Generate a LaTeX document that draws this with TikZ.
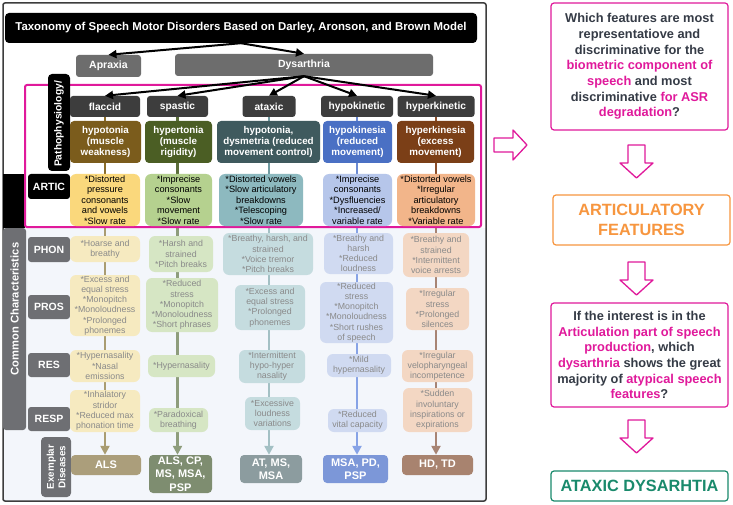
\documentclass[tikz,border=0pt]{standalone}
\usepackage{fontspec}
\setmainfont{Liberation Sans}
\usetikzlibrary{arrows.meta}
\definecolor{pinkc}{HTML}{E0199B}
\definecolor{darktxt}{HTML}{353B46}
\definecolor{orangec}{HTML}{F7963F}
\definecolor{greenc}{HTML}{1A8A6C}
\definecolor{hdrgray}{HTML}{3D3D3D}
\definecolor{rowgray}{HTML}{6E6F73}
\definecolor{toplab}{HTML}{6D6D6D}
\definecolor{faint}{HTML}{8A8A8A}
\definecolor{lowbg}{HTML}{F3F6FB}
% pathophysiology fills
\definecolor{pF}{HTML}{7B5C1C}
\definecolor{pS}{HTML}{4B5E24}
\definecolor{pA}{HTML}{3F5A5E}
\definecolor{pK}{HTML}{4A70C4}
\definecolor{pH}{HTML}{7B3F17}
% artic fills
\definecolor{aF}{HTML}{FAD87C}
\definecolor{aS}{HTML}{B5D18F}
\definecolor{aA}{HTML}{8DB9BF}
\definecolor{aK}{HTML}{B6C6EA}
\definecolor{aH}{HTML}{F2B58A}
% lower fills
\definecolor{lF}{HTML}{F6EAC0}
\definecolor{lS}{HTML}{D6E6C4}
\definecolor{lA}{HTML}{C5DCDF}
\definecolor{lK}{HTML}{D0DAF1}
\definecolor{lH}{HTML}{F3D7C3}
% exemplar fills
\definecolor{eF}{HTML}{AB9E7B}
\definecolor{eS}{HTML}{7E8D70}
\definecolor{eA}{HTML}{8C9C9F}
\definecolor{eK}{HTML}{7C97D8}
\definecolor{eH}{HTML}{A8836F}
% line colours
\definecolor{uF}{HTML}{8B6D2B}
\definecolor{uS}{HTML}{5B6E3A}
\definecolor{uA}{HTML}{6F9AA0}
\definecolor{uK}{HTML}{6B8AD3}
\definecolor{uH}{HTML}{8B4D2A}
\definecolor{dF}{HTML}{A99C72}
\definecolor{dS}{HTML}{8E9D7C}
\definecolor{dA}{HTML}{A3C0C4}
\definecolor{dK}{HTML}{87A3E6}
\definecolor{dH}{HTML}{A78474}
\newcommand\mg[1]{\textcolor{pinkc}{#1}}
\pgfdeclarelayer{bgl}
\pgfdeclarelayer{linel}
\pgfsetlayers{bgl,linel,main}
\tikzset{
  hdr/.style={fill=hdrgray, rounded corners=3pt, text=white, font=\bfseries\fontsize{10.2}{11}\selectfont, inner sep=0pt, align=center},
  toplabel/.style={fill=toplab, rounded corners=3pt, text=white, font=\bfseries\fontsize{10.5}{12}\selectfont, inner sep=0pt},
  pbox/.style={rounded corners=4pt, text=white, font=\bfseries\fontsize{9.8}{11.2}\selectfont, align=center, inner sep=0pt},
  abox/.style={rounded corners=6pt, text=black, font=\fontsize{9.2}{10.4}\selectfont, align=center, inner sep=0pt},
  lbox/.style={rounded corners=6pt, text=faint, font=\fontsize{8.8}{10.2}\selectfont, align=center, inner sep=0pt},
  rowlab/.style={fill=rowgray, rounded corners=3pt, text=white, font=\bfseries\fontsize{10.5}{12}\selectfont, inner sep=0pt},
  exbox/.style={rounded corners=4pt, text=white, font=\bfseries\fontsize{11}{13.5}\selectfont, align=center, inner sep=0pt},
  blackarr/.style={line width=2pt, -{Triangle[length=8pt,width=8pt]}},
  upline/.style={line width=2.5pt},
  downline/.style={line width=2.5pt, -{Triangle[length=9pt,width=9pt]}},
  qbox/.style={draw=pinkc, line width=1.2pt, rounded corners=3pt, text=darktxt, font=\bfseries\fontsize{12.8}{15.7}\selectfont, align=center, inner sep=0pt},
  bigbox/.style={line width=1.2pt, rounded corners=3pt, font=\bfseries\fontsize{16.3}{20}\selectfont, align=center, inner sep=0pt},
  hollow/.style={draw=pinkc, line width=1.3pt, line join=round}
}
\begin{document}
\begin{tikzpicture}[x=1pt,y=-1pt]
\useasboundingbox (0,0) rectangle (733,505);
\begin{pgfonlayer}{bgl}
  \fill[white] (0,0) rectangle (733,505);
  \fill[lowbg] (3,228) rectangle (486,501);
\end{pgfonlayer}
% frame
\draw[hdrgray, line width=1.5pt, rounded corners=2pt] (3,3) rectangle (486,501);

% top
\node[fill=black, rounded corners=4pt, text=white, font=\bfseries\fontsize{11.4}{13}\selectfont, minimum width=472, minimum height=30, inner sep=0pt] (title) at (241,28) {Taxonomy of Speech Motor Disorders Based on Darley, Aronson, and Brown Model};
\node[toplabel, minimum width=65, minimum height=22] (apr) at (108.5,66) {Apraxia};
\node[toplabel, minimum width=258, minimum height=22] (dys) at (304,65) {Dysarthria};

% left bands
\fill[black] (3,174) rectangle (25,228);
\node[fill=rowgray, rounded corners=3pt, minimum width=23, minimum height=202, inner sep=0pt] (cc) at (14.5,329) {};
\node[rotate=90, text=white, font=\bfseries\fontsize{11.2}{12}\selectfont, inner sep=0pt] (cctext) at (14.5,309) {Common Characteristics};

% pink box
\draw[pinkc, line width=2pt, rounded corners=2pt] (25,85) rectangle (481,227);

\node[fill=black, rounded corners=4pt, minimum width=22, minimum height=97, inner sep=0pt] (pp) at (59,122.5) {};
\node[rotate=90, text=white, font=\bfseries\fontsize{10.3}{12}\selectfont, inner sep=0pt] (pptext) at (59,124) {Pathophysiology/};

\node[fill=black, rounded corners=3pt, text=white, font=\bfseries\fontsize{10.5}{12}\selectfont, minimum width=42, minimum height=25, inner sep=0pt] (artic) at (49,186.5) {ARTIC};
\node[rowlab, minimum width=42, minimum height=25] (phon) at (49,249.5) {PHON};
\node[rowlab, minimum width=42, minimum height=24] (pros) at (49,307) {PROS};
\node[rowlab, minimum width=42, minimum height=24] (res) at (49,365) {RES};
\node[rowlab, minimum width=42, minimum height=24] (resp) at (49,419) {RESP};
\node[fill=rowgray, rounded corners=4pt, minimum width=30, minimum height=60, inner sep=0pt] (exl) at (56,467) {};
\node[rotate=90, text=white, font=\bfseries\fontsize{9.8}{11.5}\selectfont, align=center, inner sep=0pt] (extext) at (56,467) {Exemplar\\Diseases};

% headers
\node[hdr, minimum width=70, minimum height=21] (fh) at (105,106.5) {flaccid};
\node[hdr, minimum width=61, minimum height=21] (sh) at (177.5,106.5) {spastic};
\node[hdr, minimum width=53, minimum height=21] (xh) at (269,106.5) {ataxic};
\node[hdr, minimum width=72, minimum height=21] (kh) at (357,106.5) {hypokinetic};
\node[hdr, minimum width=77, minimum height=21] (hh) at (436,106.5) {hyperkinetic};

% pathophysiology
\node[pbox, fill=pF, minimum width=71, minimum height=42] (fp) at (105.5,142) {hypotonia\\(muscle\\weakness)};
\node[pbox, fill=pS, minimum width=67, minimum height=42] (sp) at (178.5,142) {hypertonia\\(muscle\\rigidity)};
\node[pbox, fill=pA, minimum width=103, minimum height=42] (xp) at (268.5,142) {hypotonia,\\dysmetria (reduced\\movement control)};
\node[pbox, fill=pK, minimum width=69, minimum height=42] (kp) at (357.5,142) {hypokinesia\\(reduced\\movement)};
\node[pbox, fill=pH, minimum width=77, minimum height=42] (hp) at (435.5,142) {hyperkinesia\\(excess\\movement)};

% artic
\node[abox, fill=aF, minimum width=70, minimum height=52] (fa) at (105,200) {*Distorted\\pressure\\consonants\\and vowels\\*Slow rate};
\node[abox, fill=aS, minimum width=67, minimum height=52] (sa) at (178.5,200) {*Imprecise\\consonants\\*Slow\\movement\\*Slow rate};
\node[abox, fill=aA, minimum width=84, minimum height=52] (xa) at (261,200) {*Distorted vowels\\*Slow articulatory\\breakdowns\\*Telescoping\\*Slow rate};
\node[abox, fill=aK, minimum width=69, minimum height=52] (ka) at (357.5,200) {*Imprecise\\consonants\\*Dysfluencies\\*Increased/\\variable rate};
\node[abox, fill=aH, minimum width=78, minimum height=52] (ha) at (436,200) {*Distorted vowels\\*Irregular\\articulatory\\breakdowns\\*Variable rate};

% flaccid lower
\node[lbox, fill=lF, minimum width=70, minimum height=26] (f1) at (105,249) {*Hoarse and\\breathy};
\node[lbox, fill=lF, minimum width=70, minimum height=61] (f2) at (105,305.5) {*Excess and\\equal stress\\*Monopitch\\*Monoloudness\\*Prolonged\\phonemes};
\node[lbox, fill=lF, minimum width=70, minimum height=32] (f3) at (105,366) {*Hypernasality\\*Nasal\\emissions};
\node[lbox, fill=lF, minimum width=70, minimum height=42] (f4) at (105,411) {*Inhalatory\\stridor\\*Reduced max\\phonation time};
\node[exbox, fill=eF, minimum width=70, minimum height=20] (fx) at (106,465) {ALS};

% spastic lower
\node[lbox, fill=lS, minimum width=64, minimum height=36] (s1) at (181,254) {*Harsh and\\strained\\*Pitch breaks};
\node[lbox, fill=lS, minimum width=72, minimum height=54] (s2) at (182,305) {*Reduced\\stress\\*Monopitch\\*Monoloudness\\*Short phrases};
\node[lbox, fill=lS, minimum width=67, minimum height=22] (s3) at (181.5,366) {*Hypernasality};
\node[lbox, fill=lS, minimum width=59, minimum height=24] (s4) at (178.5,420) {*Paradoxical\\breathing};
\node[exbox, fill=eS, minimum width=63, minimum height=38] (sx) at (180.5,474) {ALS, CP,\\MS, MSA,\\PSP};

% ataxic lower
\node[lbox, fill=lA, minimum width=90, minimum height=42] (x1) at (268,254) {*Breathy, harsh, and\\strained\\*Voice tremor\\*Pitch breaks};
\node[lbox, fill=lA, minimum width=70, minimum height=45] (x2) at (270,307.5) {*Excess and\\equal stress\\*Prolonged\\phonemes};
\node[lbox, fill=lA, minimum width=66, minimum height=33] (x3) at (272,366.5) {*Intermittent\\hypo-hyper\\nasality};
\node[lbox, fill=lA, minimum width=55, minimum height=33] (x4) at (272.5,413.5) {*Excessive\\loudness\\variations};
\node[exbox, fill=eA, minimum width=62, minimum height=28] (xx) at (271,469) {AT, MS,\\MSA};

% hypokinetic lower
\node[lbox, fill=lK, minimum width=69, minimum height=41] (k1) at (358.5,253.5) {*Breathy and\\harsh\\*Reduced\\loudness};
\node[lbox, fill=lK, minimum width=73, minimum height=61] (k2) at (356.5,312.5) {*Reduced\\stress\\*Monopitch\\*Monoloudness\\*Short rushes\\of speech};
\node[lbox, fill=lK, minimum width=64, minimum height=23] (k3) at (359,365.5) {*Mild\\hypernasality};
\node[lbox, fill=lK, minimum width=59, minimum height=23] (k4) at (357.5,420.5) {*Reduced\\vital capacity};
\node[exbox, fill=eK, minimum width=65, minimum height=28] (kx) at (355.5,469) {MSA, PD,\\PSP};

% hyperkinetic lower
\node[lbox, fill=lH, minimum width=66, minimum height=44] (h1) at (436,255) {*Breathy and\\strained\\*Intermittent\\voice arrests};
\node[lbox, fill=lH, minimum width=63, minimum height=42] (h2) at (437.5,309) {*Irregular\\stress\\*Prolonged\\silences};
\node[lbox, fill=lH, minimum width=71, minimum height=32] (h3) at (437.5,366) {*Irregular\\velopharyngeal\\incompetence};
\node[lbox, fill=lH, minimum width=69, minimum height=44] (h4) at (437.5,410) {*Sudden\\involuntary\\inspirations or\\expirations};
\node[exbox, fill=eH, minimum width=71, minimum height=20] (hx) at (437.5,465) {HD, TD};

% column lines
\begin{pgfonlayer}{linel}
  \draw[upline, uF] (fh.south) -- (fh.south |- fa.north);
  \draw[downline, dF] (fh.south |- fa.south) -- (fh.south |- fx.north);
  \draw[upline, uS] (sh.south) -- (sh.south |- sa.north);
  \draw[downline, dS] (sh.south |- sa.south) -- (sh.south |- sx.north);
  \draw[upline, uA] (xh.south) -- (xh.south |- xa.north);
  \draw[downline, dA] (xh.south |- xa.south) -- (xh.south |- xx.north);
  \draw[upline, uK] (kh.south) -- (kh.south |- ka.north);
  \draw[downline, dK] (kh.south |- ka.south) -- (kh.south |- kx.north);
  \draw[upline, uH] (hh.south) -- (hh.south |- ha.north);
  \draw[downline, dH] (hh.south |- ha.south) -- (hh.south |- hx.north);
\end{pgfonlayer}

% black arrows
\draw[blackarr] (title.south) -- (apr.north);
\draw[blackarr] (title.south) -- (dys.north);
\draw[blackarr] (dys.south) -- (fh.north);
\draw[blackarr] (dys.south) -- (sh.north);
\draw[blackarr] (dys.south) -- (xh.north);
\draw[blackarr] (dys.south) -- (kh.north);
\draw[blackarr] (dys.south) -- (hh.north);

% right side
\node[qbox, minimum width=177, minimum height=127] (q1) at (639.5,66.5) {Which features are most\\representatiove and\\discriminative for the\\\mg{biometric component of}\\\mg{speech} and most\\discriminative \mg{for ASR}\\\mg{degradation}?};
\node[bigbox, draw=orangec, text=orangec, minimum width=177, minimum height=50] (art) at (641.5,220) {ARTICULATORY\\FEATURES};
\node[qbox, minimum width=177, minimum height=104] (q2) at (639.5,355) {If the interest is in the\\\mg{Articulation part of speech}\\\mg{production}, which\\\mg{dysarthria} shows the great\\majority of \mg{atypical speech}\\\mg{features}?};
\node[bigbox, draw=greenc, text=greenc, minimum width=177, minimum height=30] (ans) at (639.5,486) {ATAXIC DYSARHTIA};

% hollow arrows
\draw[hollow] (494,138) -- (513,138) -- (513,130) -- (527,145) -- (513,160) -- (513,152) -- (494,152) -- cycle;
\draw[hollow] (628,145) -- (645,145) -- (645,163) -- (653,163) -- (636.5,178) -- (620,163) -- (628,163) -- cycle;
\draw[hollow] (628,262) -- (645,262) -- (645,280) -- (653,280) -- (636.5,295) -- (620,280) -- (628,280) -- cycle;
\draw[hollow] (628,420) -- (645,420) -- (645,438) -- (653,438) -- (636.5,453) -- (620,438) -- (628,438) -- cycle;
\end{tikzpicture}
\end{document}
